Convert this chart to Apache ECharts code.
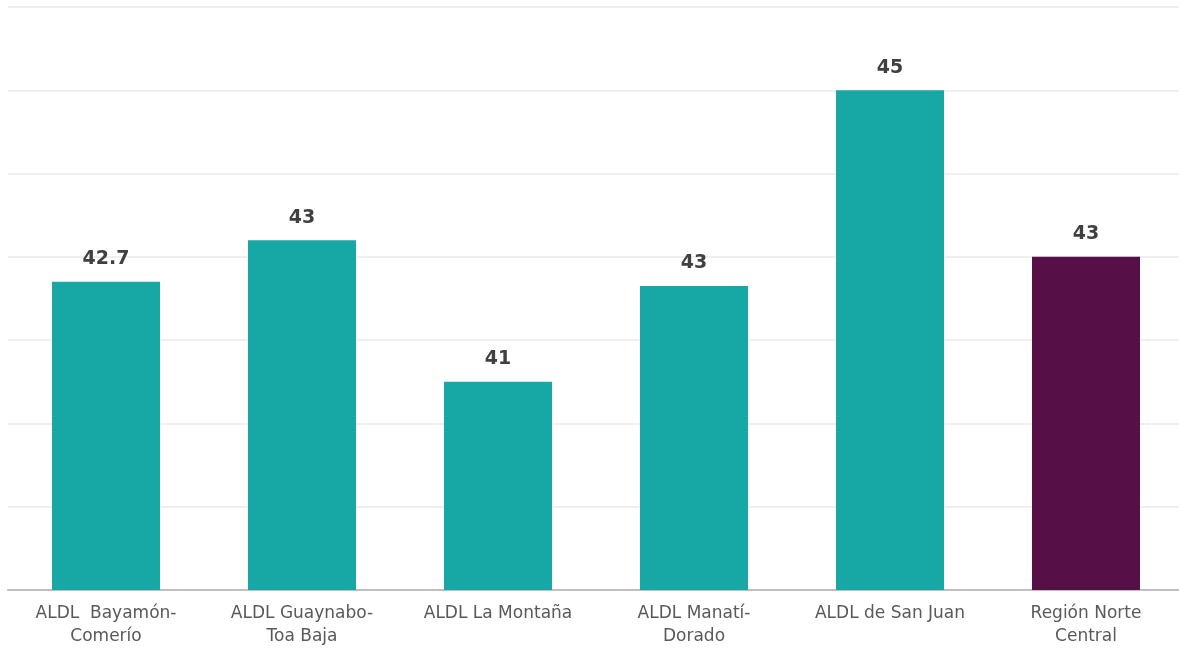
<!DOCTYPE html>
<html>
<head>
<meta charset="utf-8">
<script src="https://cdn.jsdelivr.net/npm/echarts@6/dist/echarts.min.js"></script>
<style>
  html, body { margin: 0; padding: 0; background: #fff; }
  #chart { width: 1179px; height: 650px; }
</style>
</head>
<body>
<div id="chart"></div>
<script>
var categories = [
  "ALDL  Bayamón-\nComerío",
  "ALDL Guaynabo-\nToa Baja",
  "ALDL La Montaña",
  "ALDL Manatí-\nDorado",
  "ALDL de San Juan",
  "Región Norte\nCentral"
];
var values = [42.7, 43.2, 41.5, 42.65, 45, 43];
var labels = ["42.7", "43", "41", "43", "45", "43"];
var barColors = ["#17a8a5", "#17a8a5", "#17a8a5", "#17a8a5", "#17a8a5", "#570f47"];

var myChart = echarts.init(document.getElementById("chart"));
myChart.setOption({
  animation: false,
  grid: {
    left: 8,
    top: 7,
    width: 1176,
    height: 583,
    outerBoundsMode: "none"
  },
  xAxis: {
    type: "category",
    data: categories,
    axisTick: { show: false },
    axisLine: {
      lineStyle: { color: "#bfbfbf", width: 2 }
    },
    axisLabel: {
      interval: 0,
      color: "#595959",
      fontFamily: "DejaVu Sans",
      fontSize: 17,
      lineHeight: 23,
      margin: 12
    }
  },
  yAxis: {
    type: "value",
    min: 39,
    max: 46,
    interval: 1,
    axisLabel: { show: false },
    axisLine: { show: false },
    axisTick: { show: false },
    splitLine: {
      lineStyle: { color: "#efefef", width: 2 }
    }
  },
  series: [
    {
      type: "bar",
      barWidth: 108,
      data: values.map(function (v, i) {
        return { value: v, itemStyle: { color: barColors[i] } };
      }),
      label: {
        show: true,
        position: "top",
        distance: 13,
        color: "#404040",
        fontFamily: "DejaVu Sans",
        fontWeight: "bold",
        fontSize: 19,
        formatter: function (p) {
          return labels[p.dataIndex];
        }
      }
    }
  ]
});
</script>
</body>
</html>
